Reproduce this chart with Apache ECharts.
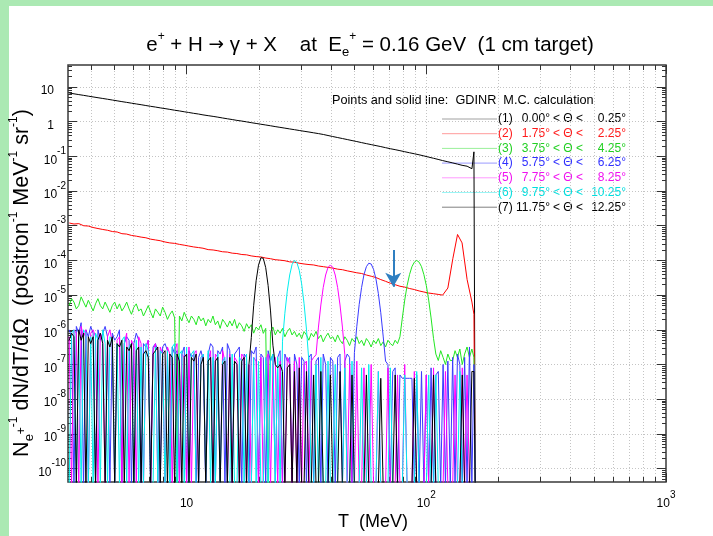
<!DOCTYPE html>
<html><head><meta charset="utf-8">
<script src="https://cdn.jsdelivr.net/npm/echarts@6/dist/echarts.min.js"></script>
<style>html,body{margin:0;padding:0;background:#fff}#c{width:713px;height:536px}</style>
</head><body><div id="c"></div>
<script>
// empty bins (zero counts) fall below the floor of the log frame
const Z = 3e-11;
const Y_MIN = 4.1e-11, Y_MAX = 43, X_MIN = 3.2, X_MAX = 1000;

// coarse bin centres, T (MeV) - smooth curves (1), (2)
const T = [3.24, 3.39, 3.55, 3.72, 3.89, 4.07, 4.27, 4.47, 4.68, 4.90, 5.13, 5.37, 5.62, 5.89, 6.17, 6.46, 6.76, 7.08, 7.41, 7.76, 8.13, 8.51, 8.91, 9.33, 9.77,
  10.2, 10.7, 11.2, 11.7, 12.3, 12.9, 13.5, 14.1, 14.8, 15.5, 16.2, 17.0, 17.8, 18.6, 19.5, 20.4, 21.4, 22.4, 23.4, 24.5, 25.7, 26.9, 28.2, 29.5, 30.9,
  32.4, 33.9, 35.5, 37.2, 38.9, 40.7, 42.7, 44.7, 46.8, 49.0, 51.3, 53.7, 56.2, 58.9, 61.7, 64.6, 67.6, 70.8, 74.1, 77.6, 81.3, 85.1, 89.1, 93.3, 97.7,
  102, 107, 112, 117, 123, 129, 135, 141, 148, 155, 158, 160];

// fine bin centres, T (MeV) - noisy curves (3)..(7)
const Tf = [3.236, 3.311, 3.388, 3.467, 3.548, 3.631, 3.715, 3.802, 3.890, 3.981,
  4.074, 4.169, 4.266, 4.365, 4.467, 4.571, 4.677, 4.786, 4.898, 5.012,
  5.129, 5.248, 5.370, 5.495, 5.623, 5.754, 5.888, 6.026, 6.166, 6.310,
  6.457, 6.607, 6.761, 6.918, 7.079, 7.244, 7.413, 7.586, 7.762, 7.943,
  8.128, 8.318, 8.511, 8.710, 8.913, 9.120, 9.333, 9.550, 9.772,
  10.00, 10.23, 10.47, 10.72, 10.96, 11.22, 11.48, 11.75, 12.02, 12.30,
  12.59, 12.88, 13.18, 13.49, 13.80, 14.13, 14.45, 14.79, 15.14, 15.49,
  15.85, 16.22, 16.60, 16.98, 17.38, 17.78, 18.20, 18.62, 19.05, 19.50,
  19.95, 20.42, 20.89, 21.38, 21.88, 22.39, 22.91, 23.44, 23.99, 24.55,
  25.12, 25.70, 26.30, 26.92, 27.54, 28.18, 28.84, 29.51, 30.20, 30.90,
  31.62, 32.36, 33.11, 33.88, 34.67, 35.48, 36.31, 37.15, 38.02, 38.90,
  39.81, 40.74, 41.69, 42.66, 43.65, 44.67, 45.71, 46.77, 47.86, 48.98,
  50.12, 51.29, 52.48, 53.70, 54.95, 56.23, 57.54, 58.88, 60.26, 61.66,
  63.10, 64.57, 66.07, 67.61, 69.18, 70.79, 72.44, 74.13, 75.86, 77.62,
  79.43, 81.28, 83.18, 85.11, 87.10, 89.13, 91.20, 93.33, 95.50, 97.72,
  100.0, 102.3, 104.7, 107.2, 109.6, 112.2, 114.8, 117.5, 120.2, 123.0,
  125.9, 128.8, 131.8, 134.9, 138.0, 141.3, 144.5, 147.9, 151.4, 154.9,
  158, 160];

// (1) 0.00 < theta < 0.25   (on T)
const s1 = [6.68, 6.35, 6.03, 5.73, 5.44, 5.17, 4.90, 4.66, 4.43, 4.20,
  3.99, 3.78, 3.60, 3.41, 3.24, 3.08, 2.92, 2.77, 2.64, 2.50,
  2.38, 2.26, 2.14, 2.04, 1.93, 1.84, 1.74, 1.66, 1.57, 1.49,
  1.42, 1.35, 1.28, 1.21, 1.15, 1.09, 1.04, 0.986, 0.936, 0.889,
  0.844, 0.801, 0.761, 0.722, 0.686, 0.651, 0.618, 0.587, 0.557, 0.529,
  0.503, 0.477, 0.453, 0.427, 0.399, 0.373, 0.348, 0.326, 0.305, 0.285,
  0.267, 0.249, 0.233, 0.218, 0.204, 0.191, 0.178, 0.166, 0.156, 0.146,
  0.136, 0.127, 0.119, 0.111, 0.103, 0.0955, 0.0883, 0.0817, 0.0755, 0.0698,
  0.0646, 0.0597, 0.0552, 0.052, 0.044, 0.135, Z];
// (2) 1.75 < theta < 2.25   (on T)
const s2 = [1.20e-3, 1.12e-3, 1.15e-3, 1.0e-3, 9.8e-4, 8.9e-4, 8.3e-4, 7.8e-4, 7.4e-4, 6.8e-4,
  6.6e-4, 5.9e-4, 5.75e-4, 5.25e-4, 5.0e-4, 4.7e-4, 4.5e-4, 4.1e-4, 3.9e-4, 3.7e-4,
  3.4e-4, 3.2e-4, 3.1e-4, 2.9e-4, 2.75e-4, 2.6e-4, 2.45e-4, 2.35e-4, 2.25e-4, 2.05e-4,
  2.0e-4, 1.9e-4, 1.78e-4, 1.74e-4, 1.62e-4, 1.58e-4, 1.48e-4, 1.45e-4, 1.35e-4, 1.29e-4,
  1.26e-4, 1.17e-4, 1.12e-4, 1.05e-4, 1.02e-4, 9.8e-5, 9.1e-5, 8.9e-5, 8.3e-5, 7.9e-5,
  7.6e-5, 7.4e-5, 6.9e-5, 6.6e-5, 6.3e-5, 6.0e-5, 5.6e-5, 5.4e-5, 5.0e-5, 4.7e-5,
  4.4e-5, 4.2e-5, 3.8e-5, 3.5e-5, 3.2e-5, 2.8e-5, 2.5e-5, 2.2e-5, 2.0e-5, 1.8e-5,
  1.7e-5, 1.55e-5, 1.45e-5, 1.32e-5, 1.23e-5, 1.15e-5, 1.1e-5, 1.05e-5, 1.0e-5, 1.6e-5,
  1.12e-4, 5.6e-4, 3.2e-4, 2.8e-5, 6.3e-6, 2.8e-6, Z];
// (3) 3.75 < theta < 4.25   (on Tf)
const s3 = [5e-6, 7.9e-6, 6.3e-6, 4e-6, 5e-6, 8.9e-6, 6.3e-6, 4.5e-6, 7.1e-6, 5e-6,
  3.5e-6, 5.6e-6, 7.9e-6, 5e-6, 4e-6, 6.3e-6, 4.5e-6, 3.2e-6, 5e-6, 6.3e-6,
  4e-6, 5.6e-6, 3.5e-6, 4.5e-6, 6.3e-6, 4e-6, 2.8e-6, 4.5e-6, 5.6e-6, 3.5e-6,
  4e-6, 2.5e-6, 3.5e-6, 5e-6, 3.2e-6, 2.2e-6, 4e-6, 3.2e-6, 2.5e-6, 4.5e-6,
  3.2e-6, 2e-6, 2.8e-6, 3.5e-6, 2.2e-6, Z, 2.5e-6, 1.8e-6, 3.2e-6, 2.2e-6,
  1.6e-6, 2.5e-6, 2e-6, 1.4e-6, 2.5e-6, 1.8e-6, 2.2e-6, 1.3e-6, 2e-6, 1.6e-6,
  2.5e-6, 1.4e-6, 1.8e-6, 1.1e-6, 2e-6, 1.6e-6, 1.2e-6, 1.8e-6, 1.3e-6, 2e-6,
  1.1e-6, 1.6e-6, 1.3e-6, 9e-7, 1.5e-6, 1.1e-6, 1.4e-6, 8e-7, 1.2e-6, 1e-6,
  1.4e-6, 7.9e-7, 1.1e-6, Z, 8.9e-7, 1.2e-6, 7.1e-7, 1e-6, 8e-7, 1.1e-6,
  6.3e-7, 8.9e-7, 1.1e-6, 7.1e-7, 9e-7, 6.3e-7, 8e-7, 5.6e-7, 8.9e-7, 7.1e-7,
  5e-7, 7.9e-7, 6.3e-7, 9e-7, 5.6e-7, 7.1e-7, 4.5e-7, 6.3e-7, 8e-7, 5.6e-7,
  6.3e-7, 4.5e-7, 7.1e-7, 5e-7, 4e-7, 6.3e-7, 5e-7, 3.5e-7, 5.6e-7, 4.5e-7,
  6.3e-7, 4e-7, 5e-7, 3.5e-7, 5.6e-7, 4.5e-7, 3.2e-7, 5e-7, 4e-7, 5.6e-7,
  3.5e-7, 4.5e-7, 3.2e-7, 5e-7, 4e-7, 3.5e-7, 5e-7, 4e-7, 6.3e-7, 2.2e-6,
  7.2e-6, 1.9e-5, 3.9e-5, 6.6e-5, 8.9e-5, 1e-4, 8.9e-5, 6.6e-5, 3.9e-5, 1.9e-5,
  7.2e-6, 2.2e-6, 5.6e-7, 2e-7, 1.3e-7, 2.5e-7, 1.6e-7, 1e-7, 2e-7, 1.3e-7,
  1.3e-7, 2.5e-7, 1.6e-7, 2.8e-7, 1e-7, 2e-7, 3.2e-7, 1.6e-7, 2.8e-7,
  1.6e-7, Z];
// (4) 5.75 < theta < 6.25   (on Tf)
const s4 = [1e-6, 6.3e-7, Z, 1.25e-6, 8e-7, 1.6e-6, Z, 1e-6, 6.3e-7, 1.25e-6,
  8e-7, Z, 1e-6, 5e-7, 8e-7, 1.25e-6, 6.3e-7, Z, 8e-7, 5e-7,
  6.3e-7, 1e-6, Z, 4e-7, 6.3e-7, 5e-7, Z, 4e-7, 8e-7, 5e-7,
  Z, 4e-7, 3.2e-7, 5e-7, Z, 3.2e-7, 4e-7, 2.5e-7, Z, 3.2e-7,
  4e-7, 2.5e-7, Z, 3.2e-7, 2e-7, 2.5e-7, Z, 2e-7, 3.2e-7, Z,
  2.5e-7, 1.6e-7, 2e-7, Z, 1.6e-7, 2.5e-7, 1.25e-7, Z, 2e-7, 4e-7,
  3.2e-7, Z, 2.5e-7, 2e-7, 3.2e-7, Z, 4e-7, 2.5e-7, Z, 2e-7,
  2.5e-7, 3.2e-7, Z, 2e-7, 1.6e-7, Z, 2.5e-7, 2e-7, 3.2e-7, Z,
  2e-7, 1.6e-7, Z, 2.5e-7, 1.25e-7, 2e-7, Z, 1.6e-7, 2.5e-7, Z,
  2e-7, 1.25e-7, 1.6e-7, Z, 2e-7, 1e-7, Z, 1.6e-7, 1.25e-7, Z,
  1.6e-7, 2e-7, Z, 1.25e-7, 1.6e-7, Z, 2e-7, 1e-7, Z, 1.6e-7,
  1.25e-7, Z, 1.6e-7, 2e-7, Z, 1.25e-7, 2e-7, 1.6e-7, Z, 2.2e-7,
  1.26e-6, 5.4e-6, 1.66e-5, 3.9e-5, 6.6e-5, 8.3e-5, 7.9e-5, 5.5e-5, 2.9e-5, 1.1e-5,
  3.1e-6, 6.6e-7, 1.25e-7, 1e-7, Z, 6.3e-8, 8e-8, Z, 5e-8, 4e-8,
  4e-8, 4e-8, 4e-8, 4e-8, Z, 5e-8, Z, 6.3e-8, Z, 5e-8,
  Z, 8e-8, Z, 5e-8, 6.3e-8, Z, 1e-7, Z, 1.25e-7, Z,
  1.6e-7, Z, 2e-7, 1e-7, Z, 1.6e-7, Z, 3.2e-7, Z,
  1e-7, Z];
// (5) 7.75 < theta < 8.25   (on Tf)
const s5 = [6.3e-7, Z, 1e-6, 8e-7, Z, 1.25e-6, 6.3e-7, 1e-6, Z, 8e-7,
  1e-6, 6.3e-7, Z, 8e-7, 5e-7, Z, 6.3e-7, 1e-6, 4e-7, Z,
  5e-7, 6.3e-7, Z, 4e-7, 8e-7, Z, 5e-7, 3.2e-7, Z, 6.3e-7,
  4e-7, Z, 3.2e-7, 5e-7, Z, 2.5e-7, 4e-7, Z, 3.2e-7, 2e-7,
  Z, 3.2e-7, 2e-7, Z, 2.5e-7, 4e-7, Z, 2e-7, 1.6e-7, Z,
  3.2e-7, Z, 2e-7, 2.5e-7, Z, 1.6e-7, 2e-7, Z, 1.25e-7, 2.5e-7,
  Z, 2e-7, 1.6e-7, Z, 2.5e-7, 1.25e-7, Z, 2e-7, Z, 1.6e-7,
  1.25e-7, Z, 2e-7, 1.6e-7, Z, 1e-7, Z, 1.6e-7, 1.25e-7, Z,
  1.6e-7, Z, 1.25e-7, 2e-7, Z, 1e-7, 1.6e-7, Z, 1.25e-7, Z,
  Z, 1.6e-7, 1e-7, Z, 1.25e-7, Z, 1.6e-7, Z, 1e-7, 1.25e-7,
  Z, 1.25e-7, 1.6e-7, 1.9e-7, 1.2e-6, 5.2e-6, 1.66e-5, 3.8e-5, 6.3e-5, 7.4e-5,
  6.3e-5, 3.8e-5, 1.66e-5, 5.2e-6, 1.2e-6, 1.9e-7, Z, 1e-7, Z, Z,
  1.25e-7, Z, Z, 8e-8, Z, Z, 1e-7, Z, Z, 6.3e-8,
  Z, Z, Z, 8e-8, Z, Z, Z, 5e-8, Z, Z,
  1e-7, Z, Z, Z, 6.3e-8, Z, Z, Z, Z, 5e-8,
  Z, Z, 8e-8, Z, Z, Z, Z, 6.3e-8, Z, Z,
  Z, 5e-8, Z, Z, 8e-8, Z, 5e-8, Z, Z,
  Z, Z];
// (6) 9.75 < theta < 10.25   (on Tf)
const s6 = [Z, 8e-7, 1e-6, Z, 6.3e-7, Z, 1e-6, 8e-7, Z, 6.3e-7,
  Z, 8e-7, 5e-7, Z, 1e-6, 4e-7, Z, 6.3e-7, 5e-7, Z,
  4e-7, Z, 5e-7, 6.3e-7, Z, 3.2e-7, 4e-7, Z, 5e-7, Z,
  3.2e-7, Z, 4e-7, 2.5e-7, Z, Z, 3.2e-7, Z, 2.5e-7, 2e-7,
  Z, 2.5e-7, Z, 3.2e-7, 4e-7, Z, 2e-7, 2.5e-7, Z, 3.2e-7,
  Z, 2e-7, 2.5e-7, Z, Z, 1.6e-7, 2e-7, Z, 2.5e-7, Z,
  1.6e-7, Z, 2e-7, Z, 1.25e-7, 1.6e-7, Z, Z, 2e-7, Z,
  Z, 1.6e-7, 1.25e-7, Z, 2e-7, Z, Z, 1.6e-7, Z, 1.25e-7,
  Z, Z, 1.6e-7, Z, 1.25e-7, 2e-7, Z, 1.6e-7, Z, 4.7e-7,
  3e-6, 1.3e-5, 3.8e-5, 7.6e-5, 1e-4, 8.7e-5, 5.2e-5, 2.1e-5, 5.7e-6, 1.05e-6,
  1.25e-7, Z, Z, 1e-7, Z, 1.6e-7, Z, Z, 1.25e-7, Z,
  Z, 1e-7, Z, Z, Z, 8e-8, Z, Z, 1.25e-7, Z,
  Z, Z, 8e-8, Z, Z, 1e-7, Z, Z, Z, 6.3e-8,
  Z, Z, Z, Z, 8e-8, Z, Z, Z, Z, Z,
  5e-8, Z, Z, Z, Z, 6.3e-8, Z, Z, Z, Z,
  5e-8, Z, Z, 5e-8, Z, Z, Z, Z, Z, Z,
  Z, Z, Z, 6.3e-8, Z, Z, Z, Z, Z,
  Z, Z];
// (7) 11.75 < theta < 12.25   (on Tf)
const s7 = [5e-7, 8e-7, 6.3e-7, Z, 1e-6, 5e-7, 8e-7, Z, 6.3e-7, 4e-7,
  6.3e-7, Z, 5e-7, 8e-7, 4e-7, Z, 5e-7, 3.2e-7, 6.3e-7, Z,
  4e-7, 3.2e-7, 5e-7, Z, 3.2e-7, 2.5e-7, 4e-7, Z, 2.5e-7, 3.2e-7,
  Z, 2e-7, 2.5e-7, 1.6e-7, Z, 2e-7, 2.5e-7, 3.2e-7, Z, 2e-7,
  2.5e-7, Z, 2e-7, 1.6e-7, Z, 2e-7, 1.25e-7, Z, 1.6e-7, 2e-7,
  Z, 1.6e-7, 1.25e-7, 2e-7, Z, 1e-7, 1.6e-7, Z, 1.25e-7, 1.6e-7,
  Z, 1.25e-7, 1.6e-7, Z, 1e-7, 1.25e-7, Z, 1.6e-7, Z, 1.25e-7,
  1e-7, Z, 1.25e-7, 1.6e-7, Z, 1e-7, 6e-7, 5.1e-6, 2.6e-5, 7.3e-5,
  1.2e-4, 1.15e-4, 6.2e-5, 1.9e-5, 3.5e-6, 3.6e-7, 1e-7, 8e-8, 1e-7, 6.3e-8,
  Z, 8e-8, 1e-7, Z, 6.3e-8, Z, 8e-8, Z, Z, 6.3e-8,
  Z, Z, 5e-8, Z, Z, 6.3e-8, Z, Z, Z, 5e-8,
  Z, Z, Z, 6.3e-8, Z, Z, Z, Z, 5e-8, Z,
  Z, Z, Z, Z, 5e-8, Z, Z, Z, Z, Z,
  4e-8, Z, Z, Z, Z, Z, 5e-8, Z, Z, Z,
  Z, Z, Z, Z, 4e-8, Z, Z, Z, Z, Z,
  Z, Z, 5e-8, Z, Z, Z, Z, Z, Z, Z,
  Z, Z, Z, Z, 5e-8, Z, Z, Z, 6.3e-8,
  6.3e-8, Z];

const seriesValues = [s1, s2, s3, s4, s5, s6, s7];
const seriesX = [T, T, Tf, Tf, Tf, Tf, Tf];
const legendIdx = ['(1)', '(2)', '(3)', '(4)', '(5)', '(6)', '(7)'];
const thetaLo = ['0.00°', '1.75°', '3.75°', '5.75°', '7.75°', '9.75°', '11.75°'];
const thetaHi = ['0.25°', '2.25°', '4.25°', '6.25°', '8.25°', '10.25°', '12.25°'];
const lineColors = ['#000000', '#ff0000', '#22e622', '#3a3aff', '#ff00ff', '#00eeee', '#000000'];
const textColors = ['#000000', '#ff1a1a', '#22d022', '#3030ff', '#f010f0', '#00dede', '#000000'];
const sampleColors = ['#a0a0a0', '#ff9a9a', '#9af09a', '#9a9aff', '#ff9aff', '#9af5f5', '#808080'];

// arrow annotation (data coords)
const arrowT = 72.8, arrowTop = 2.0e-4, arrowTip = 1.74e-5;

// axis ticks
const xMajor = [10, 100, 1000];
const xGrid = [4, 5, 6, 7, 8, 9, 10, 20, 30, 40, 50, 60, 70, 80, 90, 100, 200, 300, 400, 500, 600, 700, 800, 900];
const yMajor = [1e-10, 1e-9, 1e-8, 1e-7, 1e-6, 1e-5, 1e-4, 1e-3, 1e-2, 1e-1, 1, 10];
const yDecades = [1e-11, 1e-10, 1e-9, 1e-8, 1e-7, 1e-6, 1e-5, 1e-4, 1e-3, 1e-2, 1e-1, 1, 10];
const minorMult = [2, 3, 4, 5, 6, 7, 8, 9];
const yMinor = [];
yDecades.forEach(d => minorMult.forEach(m => yMinor.push(+(m * d).toPrecision(3))));

const FONT = '"Liberation Sans", Arial, Helvetica, sans-serif';
const chart = echarts.init(document.getElementById('c'), null, { renderer: 'canvas' });

const powRich = {
  b: { fontSize: 12, fontFamily: FONT, color: '#000', lineHeight: 20, verticalAlign: 'bottom' },
  e: { fontSize: 10, fontFamily: FONT, color: '#000', lineHeight: 8, verticalAlign: 'top' },
  p: { width: 12, lineHeight: 20 }
};
function powLabel(v, pad) {
  const e = Math.round(Math.log10(v));
  if (e === 0) return '{b|1}' + (pad ? '{p|}' : '');
  if (e === 1) return '{b|10}' + (pad ? '{p|}' : '');
  return '{b|10}{e|' + e + '}';
}

const gridLine = { show: true, lineStyle: { color: '#c4c4c4', width: 1, type: [1, 2] } };
const tickColor = '#333';

function xAx(extra) {
  return Object.assign({ type: 'log', min: X_MIN, max: X_MAX, gridIndex: 0,
    axisLine: { show: false }, axisLabel: { show: false }, splitLine: { show: false },
    axisTick: { show: false } }, extra);
}
function yAx(extra) {
  return Object.assign({ type: 'log', min: Y_MIN, max: Y_MAX, gridIndex: 0,
    axisLine: { show: false }, axisLabel: { show: false }, splitLine: { show: false },
    axisTick: { show: false } }, extra);
}

const series = seriesValues.map((vals, k) => ({
  type: 'line',
  name: legendIdx[k],
  xAxisIndex: 0, yAxisIndex: 0,
  data: seriesX[k].map((t, i) => [t, vals[i]]),
  showSymbol: false, symbol: 'none',
  lineStyle: { width: 1, color: lineColors[k] },
  itemStyle: { color: lineColors[k] },
  silent: true, clip: true,
  z: 3 + k
}));
series[1].markLine = {
  silent: true, symbol: ['none', 'arrow'], symbolSize: [12, 14],
  label: { show: false },
  lineStyle: { color: '#2f7fc1', width: 2, type: 'solid' },
  data: [[{ coord: [arrowT, arrowTop] }, { coord: [arrowT, arrowTip] }]]
};

const graphics = [
  { type: 'rect', shape: { x: 0, y: 0, width: 9, height: 536 }, style: { fill: '#abe9b3' }, silent: true },
  { type: 'rect', shape: { x: 0, y: 0, width: 713, height: 6 }, style: { fill: '#abe9b3' }, silent: true },
  { type: 'text', x: 370, y: 45, silent: true, style: {
      text: '{n|e}{s|+}{n| + H }{a|→}{n| γ + X    at  E}{d|e}{s|+}{n| = 0.16 GeV  (1 cm target)}',
      align: 'center', verticalAlign: 'middle',
      rich: {
        n: { fontSize: 20.5, fontFamily: FONT, fill: '#000', lineHeight: 28, verticalAlign: 'middle' },
        a: { fontSize: 18.5, fontFamily: '"DejaVu Sans", sans-serif', fill: '#000', lineHeight: 28, verticalAlign: 'middle' },
        s: { fontSize: 12, fontFamily: FONT, fill: '#000', lineHeight: 12, verticalAlign: 'top' },
        d: { fontSize: 13, fontFamily: FONT, fill: '#000', lineHeight: 12, verticalAlign: 'bottom' }
      } } },
  { type: 'text', x: 22, y: 283, rotation: Math.PI / 2, silent: true, style: {
      text: '{n|N}{d|e}{m|+}{s|-1}{n| dN/dT/dΩ  (positron}{s|-1}{n| MeV}{s|-1}{n| sr}{s|-1}{n|)}',
      align: 'center', verticalAlign: 'middle',
      rich: {
        n: { fontSize: 21.5, fontFamily: FONT, fill: '#000', lineHeight: 28, verticalAlign: 'middle' },
        s: { fontSize: 12, fontFamily: FONT, fill: '#000', lineHeight: 11, verticalAlign: 'top' },
        m: { fontSize: 12, fontFamily: FONT, fill: '#000', lineHeight: 15, verticalAlign: 'middle' },
        d: { fontSize: 13, fontFamily: FONT, fill: '#000', lineHeight: 11, verticalAlign: 'bottom' }
      } } },
  { type: 'text', x: 373, y: 522, silent: true, style: {
      text: 'T  (MeV)', font: '18px ' + FONT, fill: '#000', align: 'center', verticalAlign: 'middle' } },
  { type: 'text', x: 332, y: 100, silent: true, style: {
      text: 'Points and solid line:  GDINR  M.C. calculation', font: '12.7px ' + FONT, fill: '#000',
      align: 'left', verticalAlign: 'middle' } }
];
legendIdx.forEach((lab, k) => {
  const y = 119 + 14.7 * k;
  graphics.push({ type: 'line', silent: true, shape: { x1: 442, y1: y, x2: 497, y2: y },
    style: { stroke: sampleColors[k], lineWidth: 1 } });
  const st = { font: '12px ' + FONT, fill: textColors[k], verticalAlign: 'middle' };
  graphics.push({ type: 'text', x: 498, y: y, silent: true, style: Object.assign({ text: lab, align: 'left' }, st) });
  graphics.push({ type: 'text', x: 550, y: y, silent: true, style: Object.assign({ text: thetaLo[k], align: 'right' }, st) });
  graphics.push({ type: 'text', x: 553, y: y, silent: true, style: Object.assign({ text: '< Θ <', align: 'left' }, st) });
  graphics.push({ type: 'text', x: 626, y: y, silent: true, style: Object.assign({ text: thetaHi[k], align: 'right' }, st) });
});

chart.setOption({
  animation: false,
  backgroundColor: '#ffffff',
  grid: { left: 68, top: 65, width: 598, height: 417, show: true, borderColor: '#3a3a3a', borderWidth: 1.5, backgroundColor: 'transparent', containLabel: false },
  xAxis: [
    xAx({ position: 'bottom',
      axisTick: { show: true, inside: true, length: 9, customValues: xMajor, lineStyle: { color: tickColor } },
      axisLabel: { show: true, customValues: xMajor, margin: 8, formatter: v => powLabel(v, false), rich: powRich } }),
    xAx({ position: 'top',
      axisTick: { show: true, inside: true, length: 9, customValues: xMajor, lineStyle: { color: tickColor } } }),
    xAx({ position: 'bottom',
      axisTick: { show: true, inside: true, length: 5, customValues: xGrid, lineStyle: { color: tickColor } },
      splitLine: gridLine }),
    xAx({ position: 'top',
      axisTick: { show: true, inside: true, length: 5, customValues: xGrid, lineStyle: { color: tickColor } } })
  ],
  yAxis: [
    yAx({ position: 'left',
      axisTick: { show: true, inside: true, length: 9, customValues: yMajor, lineStyle: { color: tickColor } },
      axisLabel: { show: true, customValues: yMajor, margin: 2, formatter: v => powLabel(v, true), rich: powRich },
      splitLine: gridLine }),
    yAx({ position: 'right',
      axisTick: { show: true, inside: true, length: 9, customValues: yMajor, lineStyle: { color: tickColor } } }),
    yAx({ position: 'left',
      axisTick: { show: true, inside: true, length: 4, customValues: yMinor, lineStyle: { color: tickColor } } }),
    yAx({ position: 'right',
      axisTick: { show: true, inside: true, length: 4, customValues: yMinor, lineStyle: { color: tickColor } } })
  ],
  series: series,
  graphic: graphics
});
</script></body></html>
